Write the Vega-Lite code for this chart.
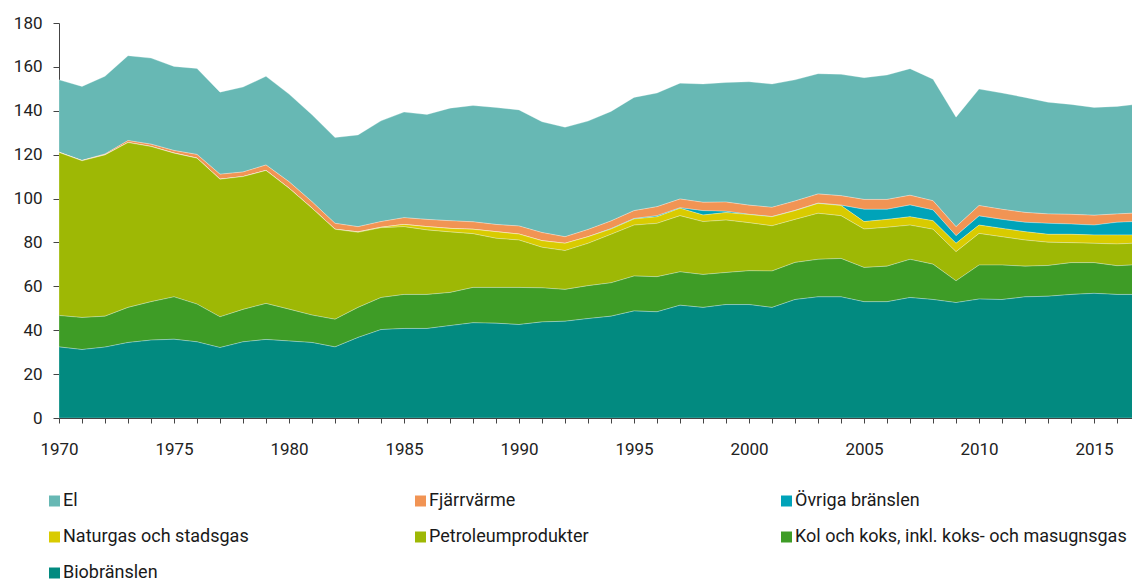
{
  "$schema": "https://vega.github.io/schema/vega-lite/v6.json",
  "width": 1073,
  "height": 395,
  "autosize": {"type": "none"},
  "padding": {"left": 59, "top": 23, "right": 0, "bottom": 163},
  "background": "white",
  "config": {"font": "Roboto", "view": {"stroke": null}},
  "data": {"values": [
    {"year":1970,"bio":32.4,"kol":14.3,"petro":74.3,"natgas":0,"ovriga":0,"fjarr":0.2,"el":32.9},
    {"year":1971,"bio":31.2,"kol":14.6,"petro":71.4,"natgas":0,"ovriga":0,"fjarr":0.2,"el":33.7},
    {"year":1972,"bio":32.3,"kol":14.1,"petro":73.5,"natgas":0,"ovriga":0,"fjarr":0.4,"el":35.4},
    {"year":1973,"bio":34.4,"kol":16.0,"petro":75.1,"natgas":0,"ovriga":0,"fjarr":0.9,"el":38.7},
    {"year":1974,"bio":35.5,"kol":17.5,"petro":70.7,"natgas":0,"ovriga":0,"fjarr":1.1,"el":39.2},
    {"year":1975,"bio":35.9,"kol":19.3,"petro":65.5,"natgas":0,"ovriga":0,"fjarr":1.2,"el":38.3},
    {"year":1976,"bio":34.7,"kol":17.2,"petro":66.5,"natgas":0,"ovriga":0,"fjarr":1.7,"el":39.2},
    {"year":1977,"bio":32.1,"kol":14.0,"petro":62.7,"natgas":0,"ovriga":0,"fjarr":2.3,"el":37.4},
    {"year":1978,"bio":34.7,"kol":14.8,"petro":60.5,"natgas":0,"ovriga":0,"fjarr":2.1,"el":38.7},
    {"year":1979,"bio":35.8,"kol":16.4,"petro":60.6,"natgas":0,"ovriga":0,"fjarr":2.5,"el":40.4},
    {"year":1980,"bio":35.1,"kol":14.5,"petro":55.1,"natgas":0,"ovriga":0,"fjarr":3.0,"el":39.9},
    {"year":1981,"bio":34.4,"kol":12.5,"petro":48.7,"natgas":0,"ovriga":0,"fjarr":3.0,"el":39.6},
    {"year":1982,"bio":32.4,"kol":12.6,"petro":41.0,"natgas":0,"ovriga":0,"fjarr":2.7,"el":39.1},
    {"year":1983,"bio":36.7,"kol":13.7,"petro":34.2,"natgas":0.2,"ovriga":0,"fjarr":2.4,"el":41.8},
    {"year":1984,"bio":40.3,"kol":14.6,"petro":31.8,"natgas":0.2,"ovriga":0,"fjarr":2.6,"el":45.9},
    {"year":1985,"bio":40.8,"kol":15.5,"petro":30.9,"natgas":1.0,"ovriga":0,"fjarr":3.1,"el":48.1},
    {"year":1986,"bio":40.8,"kol":15.5,"petro":29.4,"natgas":1.5,"ovriga":0,"fjarr":3.3,"el":47.8},
    {"year":1987,"bio":42.1,"kol":15.1,"petro":27.6,"natgas":1.6,"ovriga":0,"fjarr":3.5,"el":51.3},
    {"year":1988,"bio":43.4,"kol":16.1,"petro":24.5,"natgas":2.0,"ovriga":0,"fjarr":3.4,"el":53.0},
    {"year":1989,"bio":43.2,"kol":16.3,"petro":22.4,"natgas":3.0,"ovriga":0,"fjarr":3.3,"el":53.3},
    {"year":1990,"bio":42.6,"kol":16.9,"petro":21.6,"natgas":2.7,"ovriga":0,"fjarr":3.7,"el":52.9},
    {"year":1991,"bio":43.8,"kol":15.5,"petro":18.5,"natgas":3.0,"ovriga":0,"fjarr":3.7,"el":50.5},
    {"year":1992,"bio":44.1,"kol":14.5,"petro":17.7,"natgas":3.3,"ovriga":0,"fjarr":3.0,"el":49.9},
    {"year":1993,"bio":45.3,"kol":15.0,"petro":19.3,"natgas":3.0,"ovriga":0,"fjarr":3.3,"el":49.4},
    {"year":1994,"bio":46.4,"kol":15.2,"petro":22.1,"natgas":2.4,"ovriga":0.2,"fjarr":3.5,"el":49.9},
    {"year":1995,"bio":48.8,"kol":15.9,"petro":23.2,"natgas":2.8,"ovriga":0.2,"fjarr":3.6,"el":51.6},
    {"year":1996,"bio":48.4,"kol":16.0,"petro":24.3,"natgas":3.0,"ovriga":0.5,"fjarr":4.1,"el":51.8},
    {"year":1997,"bio":51.4,"kol":15.2,"petro":25.6,"natgas":3.4,"ovriga":0.2,"fjarr":4.0,"el":52.8},
    {"year":1998,"bio":50.4,"kol":15.0,"petro":24.1,"natgas":3.0,"ovriga":2.0,"fjarr":3.8,"el":53.9},
    {"year":1999,"bio":51.7,"kol":14.6,"petro":23.9,"natgas":3.4,"ovriga":0.6,"fjarr":4.2,"el":54.5},
    {"year":2000,"bio":51.7,"kol":15.4,"petro":21.9,"natgas":3.7,"ovriga":0.1,"fjarr":4.2,"el":56.2},
    {"year":2001,"bio":50.4,"kol":16.6,"petro":20.6,"natgas":4.1,"ovriga":0.1,"fjarr":4.2,"el":56.2},
    {"year":2002,"bio":54.0,"kol":16.9,"petro":19.6,"natgas":4.0,"ovriga":0.1,"fjarr":4.3,"el":55.2},
    {"year":2003,"bio":55.2,"kol":17.1,"petro":21.0,"natgas":4.5,"ovriga":0.1,"fjarr":4.2,"el":54.8},
    {"year":2004,"bio":55.2,"kol":17.5,"petro":19.5,"natgas":4.6,"ovriga":0.2,"fjarr":4.3,"el":55.3},
    {"year":2005,"bio":53.0,"kol":15.6,"petro":17.5,"natgas":3.4,"ovriga":5.6,"fjarr":4.5,"el":55.5},
    {"year":2006,"bio":53.0,"kol":16.2,"petro":17.7,"natgas":3.6,"ovriga":4.6,"fjarr":4.5,"el":56.7},
    {"year":2007,"bio":54.9,"kol":17.4,"petro":15.6,"natgas":3.8,"ovriga":5.4,"fjarr":4.4,"el":57.7},
    {"year":2008,"bio":54.0,"kol":16.1,"petro":15.9,"natgas":3.9,"ovriga":4.9,"fjarr":4.2,"el":55.4},
    {"year":2009,"bio":52.6,"kol":9.9,"petro":13.3,"natgas":3.8,"ovriga":3.5,"fjarr":4.1,"el":49.9},
    {"year":2010,"bio":54.2,"kol":15.5,"petro":14.4,"natgas":3.8,"ovriga":4.2,"fjarr":4.7,"el":53.1},
    {"year":2011,"bio":54.0,"kol":15.7,"petro":12.9,"natgas":3.8,"ovriga":4.1,"fjarr":4.6,"el":53.0},
    {"year":2012,"bio":55.2,"kol":14.0,"petro":11.9,"natgas":3.8,"ovriga":4.3,"fjarr":4.5,"el":52.4},
    {"year":2013,"bio":55.5,"kol":14.0,"petro":10.6,"natgas":3.6,"ovriga":5.0,"fjarr":4.3,"el":50.9},
    {"year":2014,"bio":56.3,"kol":14.5,"petro":9.1,"natgas":3.8,"ovriga":4.7,"fjarr":4.4,"el":50.1},
    {"year":2015,"bio":56.8,"kol":14.0,"petro":8.8,"natgas":3.8,"ovriga":4.5,"fjarr":4.5,"el":49.1},
    {"year":2016,"bio":56.3,"kol":13.1,"petro":9.9,"natgas":4.1,"ovriga":5.8,"fjarr":3.8,"el":49.0},
    {"year":2017,"bio":56.3,"kol":13.6,"petro":9.9,"natgas":3.6,"ovriga":6.2,"fjarr":3.9,"el":49.6}
  ]},
  "transform": [
    {"fold": ["el", "fjarr", "ovriga", "natgas", "petro", "kol", "bio"], "as": ["key", "value"]},
    {"lookup": "key", "from": {"data": {"values": [
      {"key": "bio", "label": "Biobränslen", "rank": 1},
      {"key": "kol", "label": "Kol och koks, inkl. koks- och masugnsgas", "rank": 2},
      {"key": "petro", "label": "Petroleumprodukter", "rank": 3},
      {"key": "natgas", "label": "Naturgas och stadsgas", "rank": 4},
      {"key": "ovriga", "label": "Övriga bränslen", "rank": 5},
      {"key": "fjarr", "label": "Fjärrvärme", "rank": 6},
      {"key": "el", "label": "El", "rank": 7}
    ]}, "key": "key", "fields": ["label", "rank"]}}
  ],
  "mark": {"type": "area", "clip": true, "stroke": "#ffffff", "strokeWidth": 0.6, "strokeOpacity": 0.45},
  "encoding": {
    "x": {
      "field": "year", "type": "quantitative",
      "scale": {"domain": [1970, 2016.65], "nice": false, "zero": false},
      "axis": {
        "title": null, "grid": false,
        "values": [1970,1971,1972,1973,1974,1975,1976,1977,1978,1979,1980,1981,1982,1983,1984,1985,1986,1987,1988,1989,1990,1991,1992,1993,1994,1995,1996,1997,1998,1999,2000,2001,2002,2003,2004,2005,2006,2007,2008,2009,2010,2011,2012,2013,2014,2015,2016],
        "format": "d",
        "labelExpr": "datum.value % 5 === 0 ? datum.label : ''",
        "labelOverlap": false, "labelFlush": false,
        "tickSize": 5, "tickColor": "#444444", "domainColor": "#444444",
        "labelPadding": 18, "labelFontSize": 17, "labelColor": "#222222", "labelFont": "Roboto"
      }
    },
    "y": {
      "field": "value", "type": "quantitative", "stack": "zero",
      "scale": {"domain": [0, 180], "nice": false},
      "axis": {
        "title": null, "grid": false,
        "values": [0, 20, 40, 60, 80, 100, 120, 140, 160, 180],
        "tickSize": 6, "tickColor": "#444444", "domainColor": "#444444",
        "labelPadding": 11, "labelFontSize": 17, "labelColor": "#222222", "labelFont": "Roboto"
      }
    },
    "color": {
      "field": "label", "type": "nominal",
      "scale": {
        "domain": ["El", "Fjärrvärme", "Övriga bränslen", "Naturgas och stadsgas", "Petroleumprodukter", "Kol och koks, inkl. koks- och masugnsgas", "Biobränslen"],
        "range": ["#67b8b4", "#f19454", "#00a3b9", "#d9cb00", "#9eb805", "#3e9c26", "#028a80"]
      },
      "legend": {
        "title": null, "orient": "none", "legendX": -10, "legendY": 469,
        "direction": "horizontal", "columns": 3, "gridAlign": "all",
        "columnPadding": 20, "rowPadding": 18, "padding": 0,
        "symbolType": "square", "symbolSize": 121, "symbolStrokeWidth": 0, "symbolOffset": -3.5,
        "labelFontSize": 18, "labelFont": "Roboto", "labelColor": "#1a1a1a",
        "labelOffset": -0.5, "labelLimit": 500
      }
    },
    "order": {"field": "rank", "type": "quantitative", "sort": "ascending"}
  }
}
